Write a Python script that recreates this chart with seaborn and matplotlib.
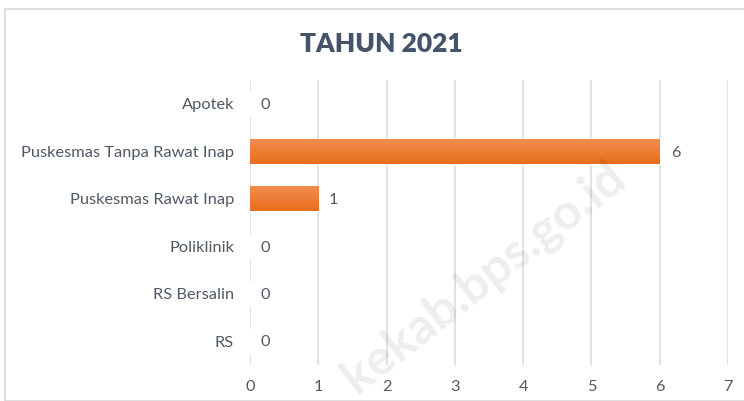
import numpy as np
import pandas as pd
import matplotlib
matplotlib.use("Agg")
import matplotlib.pyplot as plt
from matplotlib.patches import Rectangle
import seaborn as sns

categories = ["Apotek", "Puskesmas Tanpa Rawat Inap", "Puskesmas Rawat Inap",
              "Poliklinik", "RS Bersalin", "RS"]
values = [0, 6, 1, 0, 0, 0]
title = "TAHUN 2021"

df = pd.DataFrame({"kategori": categories, "jumlah": values})

sns.set_theme(style="white")
plt.rcParams["font.family"] = ["Lato", "DejaVu Sans"]

fig = plt.figure(figsize=(7.44, 4.01), dpi=100)
fig.patch.set_facecolor("white")
# chart area border
fig.patches.append(Rectangle((5 / 744, 0), 1, 1 - 9 / 401, transform=fig.transFigure,
                             fill=False, edgecolor="#D9D9D9", linewidth=1.2))

ax = fig.add_axes([0.336, 0.0905, 0.6425, 0.7095])
sns.barplot(data=df, x="jumlah", y="kategori", color="#ED7D31", width=0.53,
            saturation=1, ax=ax, zorder=3)

# vertical gradient on bars
grad = np.linspace(0, 1, 64).reshape(-1, 1)
cmap = matplotlib.colors.LinearSegmentedColormap.from_list("g", ["#F28E50", "#E86E1C"])
for bar in ax.patches:
    w = bar.get_width()
    if w <= 0:
        continue
    x0, y0, h = bar.get_x(), bar.get_y(), bar.get_height()
    im = ax.imshow(grad, extent=[x0, x0 + w, y0 + h, y0], aspect="auto",
                   cmap=cmap, zorder=4)
    im.set_clip_path(bar)

ax.set_xlim(0, 7)
ax.set_ylim(len(categories) - 0.5, -0.5)
ax.set_xticks(range(0, 8))
ax.xaxis.grid(True, color="#D9DEE5", linewidth=1.2, zorder=0)
ax.set_axisbelow(True)
for s in ax.spines.values():
    s.set_visible(False)
ax.set_xlabel("")
ax.set_ylabel("")
ax.tick_params(axis="both", length=0, labelsize=11.8, labelcolor="#505A66")
ax.tick_params(axis="x", pad=11)
ax.tick_params(axis="y", pad=11.5)

for i, v in enumerate(values):
    ax.text(v + 0.16, i + 0.03, str(v), va="center", ha="left", fontsize=11.8,
            color="#505A66")

fig.text(0.513, 0.89, title, ha="center", va="center", fontsize=19,
         fontweight="heavy", color="#44546A")

# faint watermark
fig.text(0.65, 0.31, "kekab.bps.go.id", ha="center", va="center", fontsize=36,
         fontweight="bold", color="#000000", alpha=0.07, rotation=38, zorder=10)

fig.savefig("out.png", dpi=100)
